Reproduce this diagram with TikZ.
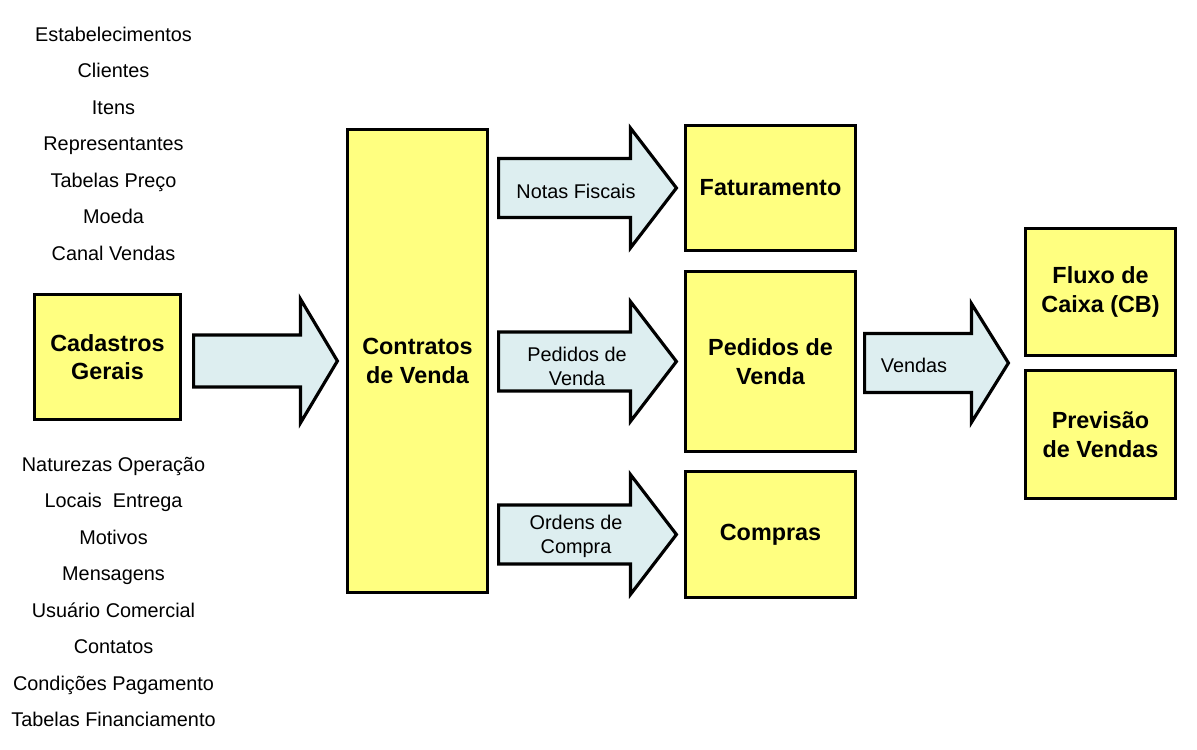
\documentclass[tikz,border=0pt]{standalone}
\usepackage{fontspec}
\setsansfont{Liberation Sans}
\usepackage{tikz}
\usetikzlibrary{calc}
\usepackage{xcolor}
\definecolor{Ink}{HTML}{000000}
\definecolor{BoxFill}{HTML}{FFFF80}
\definecolor{ArrowFill}{HTML}{DDEEF0}

% block arrow: start, tip, body half, head half, head length
\newcommand{\bigarrow}[5]{%
  \draw[blockarrow] ($(#1)+(0,#3)$) -- ($(#2)+(-#5,#3)$) -- ($(#2)+(-#5,#4)$) -- (#2)
    -- ($(#2)+(-#5,-#4)$) -- ($(#2)+(-#5,-#3)$) -- ($(#1)+(0,-#3)$) -- cycle;}

\begin{document}
\begin{tikzpicture}[x=1cm,y=1cm,
  box/.style={draw=Ink,fill=BoxFill,line width=1.8pt,align=center,inner sep=0pt,
    font=\sffamily\bfseries\fontsize{13.3}{16.2}\selectfont},
  blockarrow/.style={draw=Ink,fill=ArrowFill,line width=1.8pt,line join=miter},
  item/.style={font=\sffamily\fontsize{11.3}{13.7}\selectfont,inner sep=0pt,
    text height=8.1pt,text depth=0pt},
  arrowlabel/.style={font=\sffamily\fontsize{11.3}{13.7}\selectfont,align=center,inner sep=0pt}]
\useasboundingbox (0,0) rectangle (23.94,14.98);

% boxes
\node[box,minimum width=2.92cm,minimum height=2.50cm] (cad) at (2.15,7.84) {Cadastros\\Gerais};
\node[box,minimum width=2.80cm,minimum height=9.26cm] (contr) at (8.35,7.76) {Contratos\\de Venda};
\node[box,minimum width=3.40cm,minimum height=2.50cm] (fat) at (15.41,11.22) {Faturamento};
\node[box,minimum width=3.40cm,minimum height=3.60cm] (ped) at (15.41,7.75) {Pedidos de\\Venda};
\node[box,minimum width=3.40cm,minimum height=2.52cm] (comp) at (15.41,4.29) {Compras};
\node[box,minimum width=3.00cm,minimum height=2.54cm] (fluxo) at (22.01,9.14) {Fluxo de\\Caixa (CB)};
\node[box,minimum width=3.00cm,minimum height=2.56cm] (prev) at (22.01,6.29) {Previsão\\de Vendas};

% cadastros
\node[item] (e1) at (2.27,14.30) {Estabelecimentos};
\node[item] (e2) at (2.27,13.57) {Clientes};
\node[item] (e3) at (2.27,12.84) {Itens};
\node[item] (e4) at (2.27,12.11) {Representantes};
\node[item] (e5) at (2.27,11.38) {Tabelas Preço};
\node[item] (e6) at (2.27,10.65) {Moeda};
\node[item] (e7) at (2.27,9.92) {Canal Vendas};
\node[item] (n1) at (2.27,5.70) {Naturezas Operação};
\node[item] (n2) at (2.27,4.97) {Locais\ \ Entrega};
\node[item] (n3) at (2.27,4.24) {Motivos};
\node[item] (n4) at (2.27,3.51) {Mensagens};
\node[item] (n5) at (2.27,2.78) {Usuário Comercial};
\node[item] (n6) at (2.27,2.05) {Contatos};
\node[item] (n7) at (2.27,1.32) {Condições Pagamento};
\node[item] (n8) at (2.27,0.59) {Tabelas Financiamento};

% arrows
\coordinate (a1s) at ($(cad.east |- contr.west)+(0.23,0)$);
\coordinate (a1t) at ($(contr.west)+(-0.17,0)$);
\coordinate (a2s) at ($(contr.east |- fat.west)+(0.19,0)$);
\coordinate (a2t) at ($(fat.west)+(-0.15,0)$);
\coordinate (a3s) at ($(contr.east |- ped.west)+(0.19,0)$);
\coordinate (a3t) at ($(ped.west)+(-0.15,0)$);
\coordinate (a4s) at ($(contr.east |- comp.west)+(0.19,0)$);
\coordinate (a4t) at ($(comp.west)+(-0.15,0)$);
\coordinate (gap) at ($(fluxo.south west)!0.5!(prev.north west)$);
\coordinate (a5s) at ($(ped.east |- gap)+(0.15,0)$);
\coordinate (a5t) at ($(gap)+(-0.31,0)$);
\bigarrow{a1s}{a1t}{0.52}{1.24}{0.74}
\bigarrow{a2s}{a2t}{0.59}{1.20}{0.92}
\bigarrow{a3s}{a3t}{0.59}{1.20}{0.92}
\bigarrow{a4s}{a4t}{0.59}{1.20}{0.92}
\bigarrow{a5s}{a5t}{0.59}{1.19}{0.74}

\node[arrowlabel] (l2) at (11.52,11.16) {Notas Fiscais};
\node[arrowlabel] (l3) at (11.54,7.66) {Pedidos de\\Venda};
\node[arrowlabel] (l4) at (11.52,4.25) {Ordens de\\Compra};
\node[arrowlabel] (l5) at (18.28,7.68) {Vendas};
\end{tikzpicture}
\end{document}
